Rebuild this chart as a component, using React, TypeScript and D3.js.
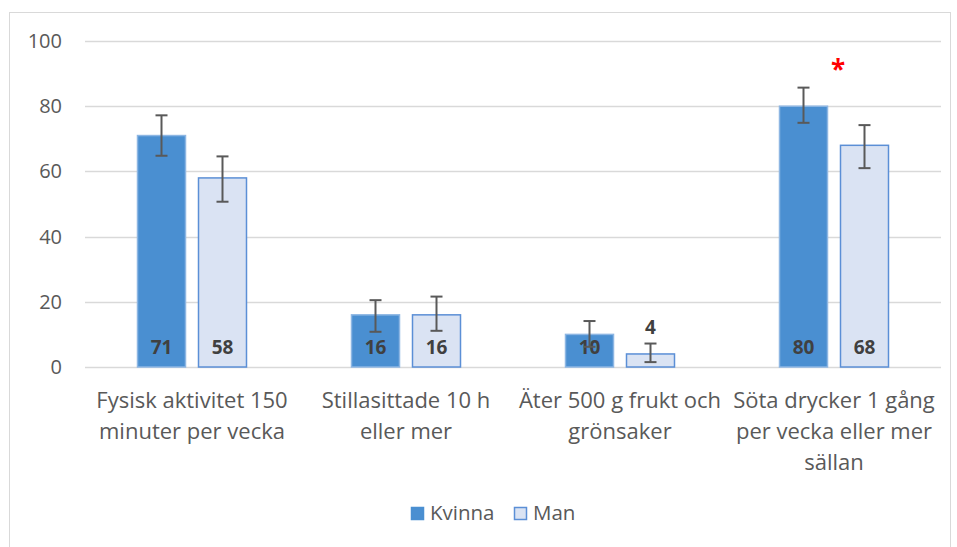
import React, { useEffect, useRef } from 'react';
import * as d3 from 'd3';

const categories = [
  ['Fysisk aktivitet 150', 'minuter per vecka'],
  ['Stillasittade 10 h', 'eller mer'],
  ['Äter 500 g frukt och', 'grönsaker'],
  ['Söta drycker 1 gång', 'per vecka eller mer', 'sällan'],
];
const seriesNames = ['Kvinna', 'Man'];
const kvinna = [71, 16, 10, 80];
const man = [58, 16, 4, 68];
const kvinnaLow = [64.8, 10.8, 6.2, 74.9];
const kvinnaHigh = [77.2, 20.5, 14.1, 85.7];
const manLow = [50.7, 11.1, 1.5, 61];
const manHigh = [64.6, 21.6, 7.2, 74.2];
const yTicks = [0, 20, 40, 60, 80, 100];
const significant = [false, false, false, true];

const App = () => {
  const svgRef = useRef<SVGSVGElement>(null);

  useEffect(() => {
    const svg = d3.select(svgRef.current);
    svg.selectAll('*').remove();

    const W = 957, H = 547;
    const margin = { top: 41, right: 16, bottom: 180, left: 85 };
    const plotW = W - margin.left - margin.right;
    const plotH = H - margin.top - margin.bottom;
    const font = "'Open Sans', 'Noto Sans', sans-serif";

    svg.append('rect')
      .attr('x', 9.5).attr('y', 12.5)
      .attr('width', 941).attr('height', 545)
      .attr('fill', 'white').attr('stroke', '#d9d9d9');

    const g = svg.append('g').attr('transform', `translate(${margin.left},${margin.top})`);

    const x = d3.scaleBand().domain(d3.range(categories.length).map(String)).range([0, plotW]);
    const y = d3.scaleLinear().domain([0, 100]).range([plotH, 0]);

    // gridlines
    g.selectAll('.grid').data(yTicks).enter().append('line')
      .attr('x1', 0).attr('x2', plotW)
      .attr('y1', d => Math.round(y(d)) + 0.5).attr('y2', d => Math.round(y(d)) + 0.5)
      .attr('stroke', '#d9d9d9').attr('stroke-width', 1.3);

    g.selectAll('.ytick').data(yTicks).enter().append('text')
      .attr('x', -23).attr('y', d => y(d)).attr('dy', '0.35em')
      .attr('text-anchor', 'end').attr('fill', '#595959')
      .style('font-family', font).style('font-size', '20px')
      .text(d => d);

    const barW = 48;
    const off = 30.5;
    const series = [
      { name: seriesNames[0], vals: kvinna, lo: kvinnaLow, hi: kvinnaHigh, dx: -off, fill: '#4a8fd1', stroke: '#8db6e3' },
      { name: seriesNames[1], vals: man, lo: manLow, hi: manHigh, dx: off, fill: '#dae3f3', stroke: '#5b8fd6' },
    ];

    series.forEach(s => {
      const cx = (i: number) => (x(String(i)) as number) + x.bandwidth() / 2 + s.dx;
      g.selectAll(null).data(s.vals).enter().append('rect')
        .attr('x', (d, i) => cx(i) - barW / 2)
        .attr('y', d => y(d))
        .attr('width', barW)
        .attr('height', d => plotH - y(d))
        .attr('fill', s.fill).attr('stroke', s.stroke).attr('stroke-width', 1.5);

      // value labels
      g.selectAll(null).data(s.vals).enter().append('text')
        .attr('x', (d, i) => cx(i))
        .attr('y', (d, i) => d < 6 ? y(s.hi[i]) - 10 : plotH - 13)
        .attr('text-anchor', 'middle').attr('fill', '#404040')
        .style('font-family', font).style('font-size', '19px').style('font-weight', 'bold')
        .text(d => d);

      // error bars
      s.vals.forEach((d, i) => {
        const ex = cx(i);
        const eg = g.append('g').attr('stroke', '#595959').attr('stroke-width', 2);
        eg.append('line').attr('x1', ex).attr('x2', ex).attr('y1', y(s.lo[i])).attr('y2', y(s.hi[i]));
        eg.append('line').attr('x1', ex - 6).attr('x2', ex + 6).attr('y1', y(s.lo[i])).attr('y2', y(s.lo[i]));
        eg.append('line').attr('x1', ex - 6).attr('x2', ex + 6).attr('y1', y(s.hi[i])).attr('y2', y(s.hi[i]));
      });
    });

    // significance markers
    significant.forEach((sig, i) => {
      if (!sig) return;
      g.append('text')
        .attr('x', (x(String(i)) as number) + x.bandwidth() / 2 + 4)
        .attr('y', y(Math.max(kvinnaHigh[i], manHigh[i])) - 9)
        .attr('text-anchor', 'middle').attr('fill', '#ff0000')
        .style('font-family', font).style('font-size', '26px').style('font-weight', 'bold')
        .text('*');
    });

    // category labels
    categories.forEach((lines, i) => {
      const t = g.append('text')
        .attr('x', (x(String(i)) as number) + x.bandwidth() / 2)
        .attr('y', plotH + 41)
        .attr('text-anchor', 'middle').attr('fill', '#595959')
        .style('font-family', font).style('font-size', '22px');
      lines.forEach((l, j) => {
        t.append('tspan').attr('x', (x(String(i)) as number) + x.bandwidth() / 2)
          .attr('dy', j === 0 ? 0 : 31).text(l);
      });
    });

    // legend
    const lg = svg.append('g').attr('transform', 'translate(411,507)');
    const legendItems = [
      { name: seriesNames[0], x: 0, fill: '#4a8fd1', stroke: '#4a8fd1' },
      { name: seriesNames[1], x: 103, fill: '#dae3f3', stroke: '#5b8fd6' },
    ];
    legendItems.forEach(it => {
      lg.append('rect').attr('x', it.x + 0.5).attr('y', 0.5).attr('width', 12).attr('height', 12)
        .attr('fill', it.fill).attr('stroke', it.stroke).attr('stroke-width', 1.5);
      lg.append('text').attr('x', it.x + 19).attr('y', 6).attr('dy', '0.35em')
        .attr('fill', '#595959').style('font-family', font).style('font-size', '20.5px')
        .text(it.name);
    });
  }, []);

  return (
    <div style={{ position: 'absolute', left: 0, top: 0, width: 957, height: 547, background: 'white' }}>
      <svg ref={svgRef} width={957} height={547}></svg>
    </div>
  );
};

export default App;
